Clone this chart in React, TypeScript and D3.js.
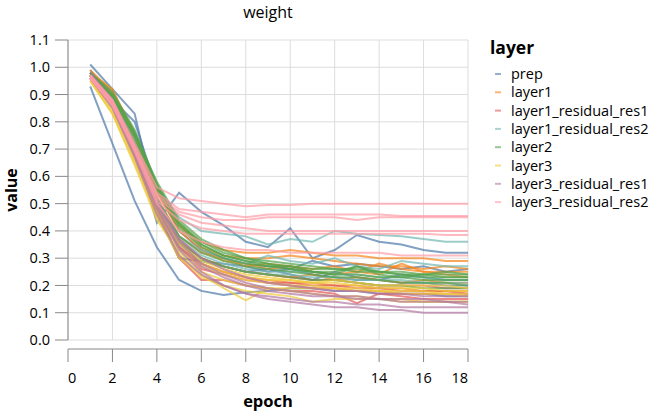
import React from 'react';
import * as d3 from 'd3';

const layers = [
  'prep',
  'layer1',
  'layer1_residual_res1',
  'layer1_residual_res2',
  'layer2',
  'layer3',
  'layer3_residual_res1',
  'layer3_residual_res2',
];
const colors = ['#4c78a8', '#f58518', '#e45756', '#72b7b2', '#54a24b', '#eeca3b', '#b279a2', '#ff9da6'];

const epochs = [1, 2, 3, 4, 5, 6, 7, 8, 9, 10, 11, 12, 13, 14, 15, 16, 17, 18];
const xTicks = [0, 2, 4, 6, 8, 10, 12, 14, 16, 18];
const yTicks = [0, 0.1, 0.2, 0.3, 0.4, 0.5, 0.6, 0.7, 0.8, 0.9, 1.0, 1.1];

// one array per layer, one row per weight tensor
const prep = [
  [0.93, 0.72, 0.51, 0.34, 0.22, 0.18, 0.165, 0.175, 0.18, 0.19, 0.19, 0.18, 0.18, 0.17, 0.17, 0.17, 0.16, 0.16],
  [1.01, 0.92, 0.83, 0.48, 0.3, 0.29, 0.28, 0.27, 0.25, 0.26, 0.24, 0.23, 0.22, 0.22, 0.21, 0.21, 0.2, 0.2],
  [0.99, 0.88, 0.72, 0.43, 0.54, 0.47, 0.42, 0.36, 0.34, 0.41, 0.3, 0.33, 0.385, 0.36, 0.35, 0.33, 0.32, 0.32],
  [0.98, 0.87, 0.7, 0.47, 0.3, 0.29, 0.27, 0.25, 0.26, 0.24, 0.22, 0.25, 0.23, 0.22, 0.24, 0.23, 0.22, 0.22],
  [0.97, 0.88, 0.8, 0.55, 0.4, 0.33, 0.3, 0.28, 0.27, 0.26, 0.29, 0.27, 0.28, 0.27, 0.26, 0.27, 0.25, 0.26],
];
const layer1 = [
  [0.97, 0.9, 0.74, 0.55, 0.42, 0.36, 0.33, 0.32, 0.32, 0.33, 0.32, 0.31, 0.31, 0.3, 0.3, 0.3, 0.29, 0.29],
  [0.98, 0.92, 0.75, 0.52, 0.38, 0.32, 0.3, 0.27, 0.28, 0.27, 0.26, 0.27, 0.25, 0.28, 0.26, 0.25, 0.25, 0.25],
  [0.96, 0.88, 0.7, 0.5, 0.36, 0.3, 0.27, 0.25, 0.24, 0.23, 0.24, 0.22, 0.23, 0.22, 0.21, 0.22, 0.21, 0.21],
  [0.97, 0.87, 0.72, 0.48, 0.34, 0.28, 0.25, 0.23, 0.22, 0.21, 0.21, 0.2, 0.2, 0.19, 0.19, 0.18, 0.18, 0.18],
  [0.99, 0.91, 0.76, 0.56, 0.42, 0.34, 0.31, 0.3, 0.3, 0.31, 0.3, 0.29, 0.28, 0.27, 0.27, 0.26, 0.27, 0.26],
  [0.98, 0.9, 0.75, 0.54, 0.4, 0.33, 0.29, 0.28, 0.26, 0.27, 0.25, 0.24, 0.25, 0.24, 0.28, 0.25, 0.24, 0.23],
];
const layer1Res1 = [
  [0.97, 0.88, 0.7, 0.5, 0.34, 0.26, 0.24, 0.22, 0.21, 0.2, 0.19, 0.19, 0.18, 0.18, 0.17, 0.17, 0.17, 0.17],
  [0.96, 0.86, 0.68, 0.47, 0.3, 0.22, 0.22, 0.2, 0.19, 0.18, 0.18, 0.17, 0.135, 0.17, 0.16, 0.15, 0.15, 0.15],
  [0.98, 0.89, 0.72, 0.52, 0.37, 0.3, 0.27, 0.25, 0.24, 0.23, 0.22, 0.22, 0.21, 0.2, 0.2, 0.2, 0.19, 0.19],
  [0.97, 0.88, 0.71, 0.5, 0.35, 0.28, 0.25, 0.23, 0.21, 0.21, 0.2, 0.2, 0.19, 0.19, 0.18, 0.18, 0.18, 0.17],
];
const layer1Res2 = [
  [0.98, 0.89, 0.74, 0.56, 0.45, 0.4, 0.39, 0.38, 0.35, 0.37, 0.36, 0.4, 0.39, 0.385, 0.38, 0.37, 0.36, 0.36],
  [0.97, 0.88, 0.72, 0.52, 0.38, 0.33, 0.3, 0.28, 0.31, 0.29, 0.28, 0.3, 0.27, 0.26, 0.29, 0.28, 0.27, 0.27],
  [0.96, 0.87, 0.7, 0.5, 0.35, 0.29, 0.27, 0.25, 0.24, 0.24, 0.23, 0.23, 0.22, 0.22, 0.22, 0.21, 0.21, 0.21],
  [0.97, 0.88, 0.71, 0.51, 0.37, 0.31, 0.28, 0.26, 0.25, 0.25, 0.25, 0.24, 0.24, 0.23, 0.23, 0.23, 0.22, 0.22],
];
const layer2 = [
  [0.98, 0.9, 0.76, 0.58, 0.44, 0.37, 0.33, 0.3, 0.28, 0.27, 0.26, 0.26, 0.25, 0.25, 0.24, 0.24, 0.24, 0.24],
  [0.97, 0.89, 0.74, 0.55, 0.41, 0.34, 0.3, 0.28, 0.27, 0.26, 0.25, 0.25, 0.27, 0.25, 0.24, 0.23, 0.23, 0.23],
  [0.98, 0.91, 0.77, 0.57, 0.42, 0.35, 0.31, 0.29, 0.28, 0.26, 0.25, 0.24, 0.24, 0.23, 0.23, 0.22, 0.22, 0.22],
  [0.96, 0.88, 0.72, 0.52, 0.38, 0.32, 0.29, 0.27, 0.26, 0.25, 0.24, 0.23, 0.23, 0.22, 0.21, 0.21, 0.21, 0.2],
  [0.97, 0.89, 0.75, 0.56, 0.43, 0.36, 0.32, 0.3, 0.29, 0.28, 0.27, 0.26, 0.26, 0.25, 0.25, 0.24, 0.25, 0.24],
  [0.97, 0.88, 0.71, 0.5, 0.36, 0.3, 0.27, 0.25, 0.24, 0.23, 0.22, 0.22, 0.21, 0.2, 0.2, 0.19, 0.19, 0.19],
  [0.98, 0.9, 0.76, 0.57, 0.43, 0.35, 0.31, 0.29, 0.27, 0.27, 0.25, 0.24, 0.27, 0.24, 0.23, 0.24, 0.23, 0.23],
];
const layer3 = [
  [0.96, 0.84, 0.66, 0.46, 0.3, 0.24, 0.19, 0.145, 0.19, 0.18, 0.17, 0.16, 0.16, 0.15, 0.15, 0.14, 0.14, 0.14],
  [0.95, 0.83, 0.64, 0.44, 0.32, 0.25, 0.22, 0.2, 0.19, 0.19, 0.19, 0.19, 0.19, 0.18, 0.18, 0.18, 0.17, 0.17],
  [0.96, 0.85, 0.67, 0.47, 0.33, 0.27, 0.24, 0.22, 0.21, 0.2, 0.2, 0.19, 0.18, 0.18, 0.17, 0.17, 0.17, 0.16],
  [0.95, 0.83, 0.65, 0.45, 0.31, 0.23, 0.2, 0.18, 0.17, 0.16, 0.14, 0.15, 0.15, 0.15, 0.14, 0.14, 0.14, 0.14],
  [0.96, 0.86, 0.68, 0.48, 0.35, 0.29, 0.26, 0.24, 0.23, 0.22, 0.21, 0.22, 0.21, 0.2, 0.2, 0.2, 0.2, 0.19],
  [0.97, 0.86, 0.69, 0.49, 0.36, 0.28, 0.25, 0.23, 0.22, 0.22, 0.21, 0.21, 0.2, 0.19, 0.19, 0.19, 0.18, 0.18],
];
const layer3Res1 = [
  [0.97, 0.86, 0.68, 0.48, 0.33, 0.25, 0.2, 0.17, 0.15, 0.14, 0.13, 0.12, 0.12, 0.11, 0.11, 0.1, 0.1, 0.1],
  [0.96, 0.85, 0.67, 0.46, 0.31, 0.24, 0.2, 0.17, 0.16, 0.15, 0.14, 0.14, 0.13, 0.13, 0.12, 0.12, 0.12, 0.12],
  [0.97, 0.87, 0.7, 0.5, 0.36, 0.28, 0.24, 0.21, 0.19, 0.18, 0.17, 0.16, 0.16, 0.15, 0.15, 0.15, 0.14, 0.14],
  [0.98, 0.88, 0.71, 0.51, 0.37, 0.3, 0.26, 0.23, 0.21, 0.2, 0.19, 0.18, 0.18, 0.17, 0.17, 0.16, 0.16, 0.16],
  [0.96, 0.86, 0.69, 0.49, 0.34, 0.27, 0.23, 0.2, 0.18, 0.17, 0.16, 0.16, 0.15, 0.15, 0.14, 0.14, 0.14, 0.13],
];
const layer3Res2 = [
  [0.97, 0.88, 0.72, 0.56, 0.52, 0.51, 0.5, 0.49, 0.495, 0.495, 0.5, 0.5, 0.5, 0.5, 0.5, 0.5, 0.5, 0.5],
  [0.97, 0.87, 0.71, 0.54, 0.48, 0.47, 0.46, 0.45, 0.46, 0.46, 0.46, 0.46, 0.46, 0.46, 0.455, 0.455, 0.455, 0.455],
  [0.96, 0.87, 0.7, 0.53, 0.47, 0.45, 0.44, 0.44, 0.45, 0.45, 0.45, 0.45, 0.44, 0.45, 0.45, 0.45, 0.45, 0.45],
  [0.97, 0.88, 0.71, 0.52, 0.46, 0.43, 0.42, 0.41, 0.4, 0.4, 0.4, 0.4, 0.4, 0.4, 0.4, 0.4, 0.4, 0.4],
  [0.96, 0.86, 0.7, 0.51, 0.44, 0.41, 0.4, 0.39, 0.39, 0.39, 0.39, 0.39, 0.39, 0.39, 0.39, 0.39, 0.385, 0.385],
  [0.96, 0.86, 0.69, 0.5, 0.4, 0.36, 0.34, 0.33, 0.33, 0.32, 0.32, 0.32, 0.32, 0.32, 0.31, 0.31, 0.31, 0.31],
];

const series = [prep, layer1, layer1Res1, layer1Res2, layer2, layer3, layer3Res1, layer3Res2];

const FONT = '"Segoe UI", "Open Sans", "Noto Sans", sans-serif';

export default function App() {
  const left = 68;
  const top = 40;
  const width = 400;
  const height = 300;

  const x = d3.scaleLinear().domain([0, 18]).range([left, left + width]);
  const y = d3.scaleLinear().domain([0, 1.1]).range([top + height, top]);
  const line = d3
    .line<number>()
    .x((_, i) => x(epochs[i]))
    .y((d) => y(d));

  const axisY = top + height + 9;

  return (
    <svg width={668} height={417} style={{ position: 'absolute', left: 0, top: 0, fontFamily: FONT }}>
      <rect width={668} height={417} fill="#fff" />
      {/* grid */}
      {xTicks.map((t) => (
        <line key={'gx' + t} x1={x(t)} x2={x(t)} y1={top} y2={top + height} stroke="#ddd" />
      ))}
      {yTicks.map((t) => (
        <line key={'gy' + t} x1={left} x2={left + width} y1={y(t)} y2={y(t)} stroke="#ddd" />
      ))}

      {/* lines */}
      {series.map((group, li) =>
        group.map((vals, k) => (
          <path
            key={li + '-' + k}
            d={line(vals) || ''}
            fill="none"
            stroke={colors[li]}
            strokeWidth={2}
            strokeOpacity={0.7}
          />
        ))
      )}

      {/* y axis */}
      <line x1={left} x2={left} y1={top} y2={top + height} stroke="#888" />
      {yTicks.map((t) => (
        <g key={'ty' + t}>
          <line x1={left - 13} x2={left} y1={y(t)} y2={y(t)} stroke="#888" />
          <text x={left - 18} y={y(t)} dy="0.35em" textAnchor="end" fontSize={14.5} fill="#000">
            {d3.format('.1f')(t)}
          </text>
        </g>
      ))}
      <text
        transform={`translate(17,${top + height / 2}) rotate(-90)`}
        textAnchor="middle"
        fontSize={16}
        fontWeight="bold"
        fill="#000"
      >
        value
      </text>

      {/* x axis */}
      <line x1={left} x2={left + width} y1={axisY} y2={axisY} stroke="#888" />
      {xTicks.map((t, i) => (
        <g key={'tx' + t}>
          <line x1={x(t)} x2={x(t)} y1={axisY} y2={axisY + 13} stroke="#888" />
          <text
            x={x(t)}
            y={axisY + 34}
            textAnchor={i === 0 ? 'start' : i === xTicks.length - 1 ? 'end' : 'middle'}
            fontSize={14.5}
            fill="#000"
          >
            {t}
          </text>
        </g>
      ))}
      <text x={left + width / 2} y={407} textAnchor="middle" fontSize={16.5} fontWeight="bold" fill="#000">
        epoch
      </text>

      {/* title */}
      <text x={left + width / 2} y={18} textAnchor="middle" fontSize={16} fill="#000">
        weight
      </text>

      {/* legend */}
      <text x={490} y={54} fontSize={17.5} fontWeight="bold" fill="#000">
        layer
      </text>
      {layers.map((name, i) => (
        <g key={name} transform={`translate(495,${74 + i * 18.3})`}>
          <line x1={0} x2={6} y1={0} y2={0} stroke={colors[i]} strokeWidth={2} strokeOpacity={0.6} />
          <text x={16} y={0} dy="0.35em" fontSize={14.5} fill="#000">
            {name}
          </text>
        </g>
      ))}
    </svg>
  );
}
